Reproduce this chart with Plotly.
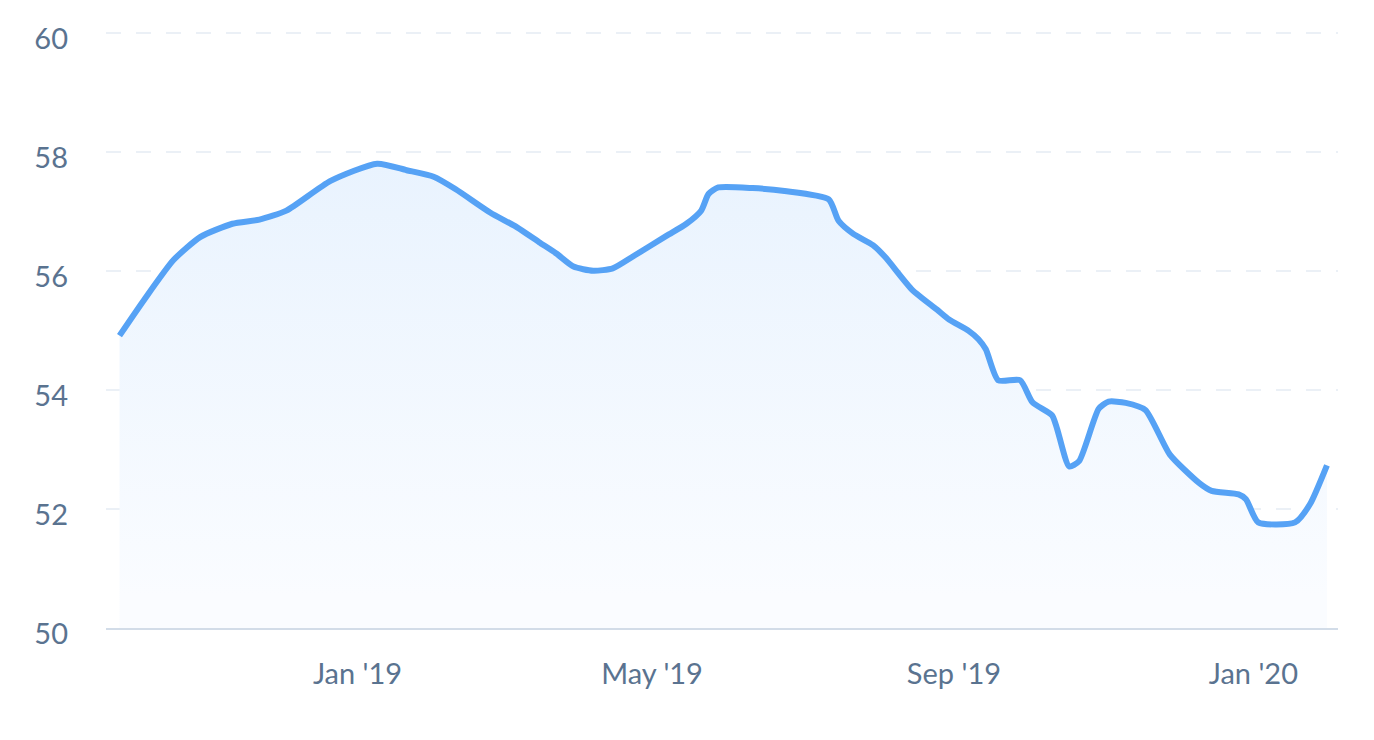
import plotly.graph_objects as go

dates = [
    "2018-09-26", "2018-10-06", "2018-10-18", "2018-10-29", "2018-11-11", "2018-11-22",
    "2018-12-03", "2018-12-21", "2019-01-09", "2019-01-21", "2019-02-01", "2019-02-10",
    "2019-02-24", "2019-03-07", "2019-03-16", "2019-03-23", "2019-03-30", "2019-04-07",
    "2019-04-15", "2019-04-24", "2019-05-07", "2019-05-15", "2019-05-21", "2019-05-24",
    "2019-05-28", "2019-06-11", "2019-06-24", "2019-07-12", "2019-07-16", "2019-07-22",
    "2019-07-30", "2019-08-04", "2019-08-15", "2019-08-25", "2019-08-30", "2019-09-07",
    "2019-09-11", "2019-09-14", "2019-09-19", "2019-09-28", "2019-10-03", "2019-10-11",
    "2019-10-13", "2019-10-18", "2019-10-22", "2019-10-30", "2019-11-03", "2019-11-10",
    "2019-11-18", "2019-11-28", "2019-12-10", "2019-12-15", "2019-12-26", "2019-12-29",
    "2020-01-03", "2020-01-18", "2020-01-24", "2020-01-31",
]
values = [
    54.91, 55.51, 56.18, 56.57, 56.79, 56.86,
    57.01, 57.51, 57.80, 57.69, 57.58, 57.37,
    56.98, 56.73, 56.48, 56.29, 56.07, 56.00,
    56.04, 56.26, 56.59, 56.79, 57.01, 57.29,
    57.40, 57.39, 57.34, 57.20, 56.84, 56.62,
    56.43, 56.23, 55.68, 55.35, 55.18, 54.99,
    54.85, 54.68, 54.16, 54.16, 53.79, 53.57,
    53.35, 52.71, 52.80, 53.68, 53.80, 53.78,
    53.66, 52.91, 52.43, 52.30, 52.24, 52.16,
    51.77, 51.77, 52.07, 52.73,
]

x_tick_vals = ["2019-01-01", "2019-05-01", "2019-09-01", "2020-01-01"]
x_tick_text = ["Jan '19", "May '19", "Sep '19", "Jan '20"]
y_tick_vals = [50, 52, 54, 56, 58, 60]
y_tick_text = ["50", "52", "54", "56", "58", "60"]

LABEL_COLOR = "#5a7390"
LINE_COLOR = "#56a2f5"

fig = go.Figure()
fig.add_trace(go.Scatter(
    x=dates, y=values,
    mode="lines",
    line=dict(color=LINE_COLOR, width=6, shape="spline", smoothing=0.6),
    fill="tozeroy",
    fillgradient=dict(
        type="vertical",
        colorscale=[[0, "rgba(250,252,255,1)"], [1, "rgba(233,243,254,1)"]],
        start=50.6, stop=57.8,
    ),
    hoverinfo="skip",
    showlegend=False,
))

fig.update_layout(
    width=1358, height=724,
    margin=dict(l=98, r=28, t=19, b=104),
    paper_bgcolor="white", plot_bgcolor="white",
    font=dict(family="Lato, 'Open Sans', sans-serif", size=29, color=LABEL_COLOR),
    xaxis=dict(
        type="date",
        range=["2018-09-20 12:00", "2020-02-04 12:00"],
        tickmode="array", tickvals=x_tick_vals, ticktext=x_tick_text,
        showgrid=False, zeroline=False,
        showline=True, linecolor="#d2dce8", linewidth=2,
        ticks="", ticklabelstandoff=19,
        tickfont=dict(size=29, color=LABEL_COLOR),
    ),
    yaxis=dict(
        range=[49.995, 60.03],
        tickmode="array", tickvals=y_tick_vals, ticktext=y_tick_text,
        showgrid=True, gridcolor="#ebf0f6", gridwidth=2, griddash="15px,15px",
        zeroline=False, showline=False, ticks="",
        ticklabelstandoff=37, ticklabelshift=6,
        tickfont=dict(size=29, color=LABEL_COLOR),
    ),
)

fig.write_html("out.html")
